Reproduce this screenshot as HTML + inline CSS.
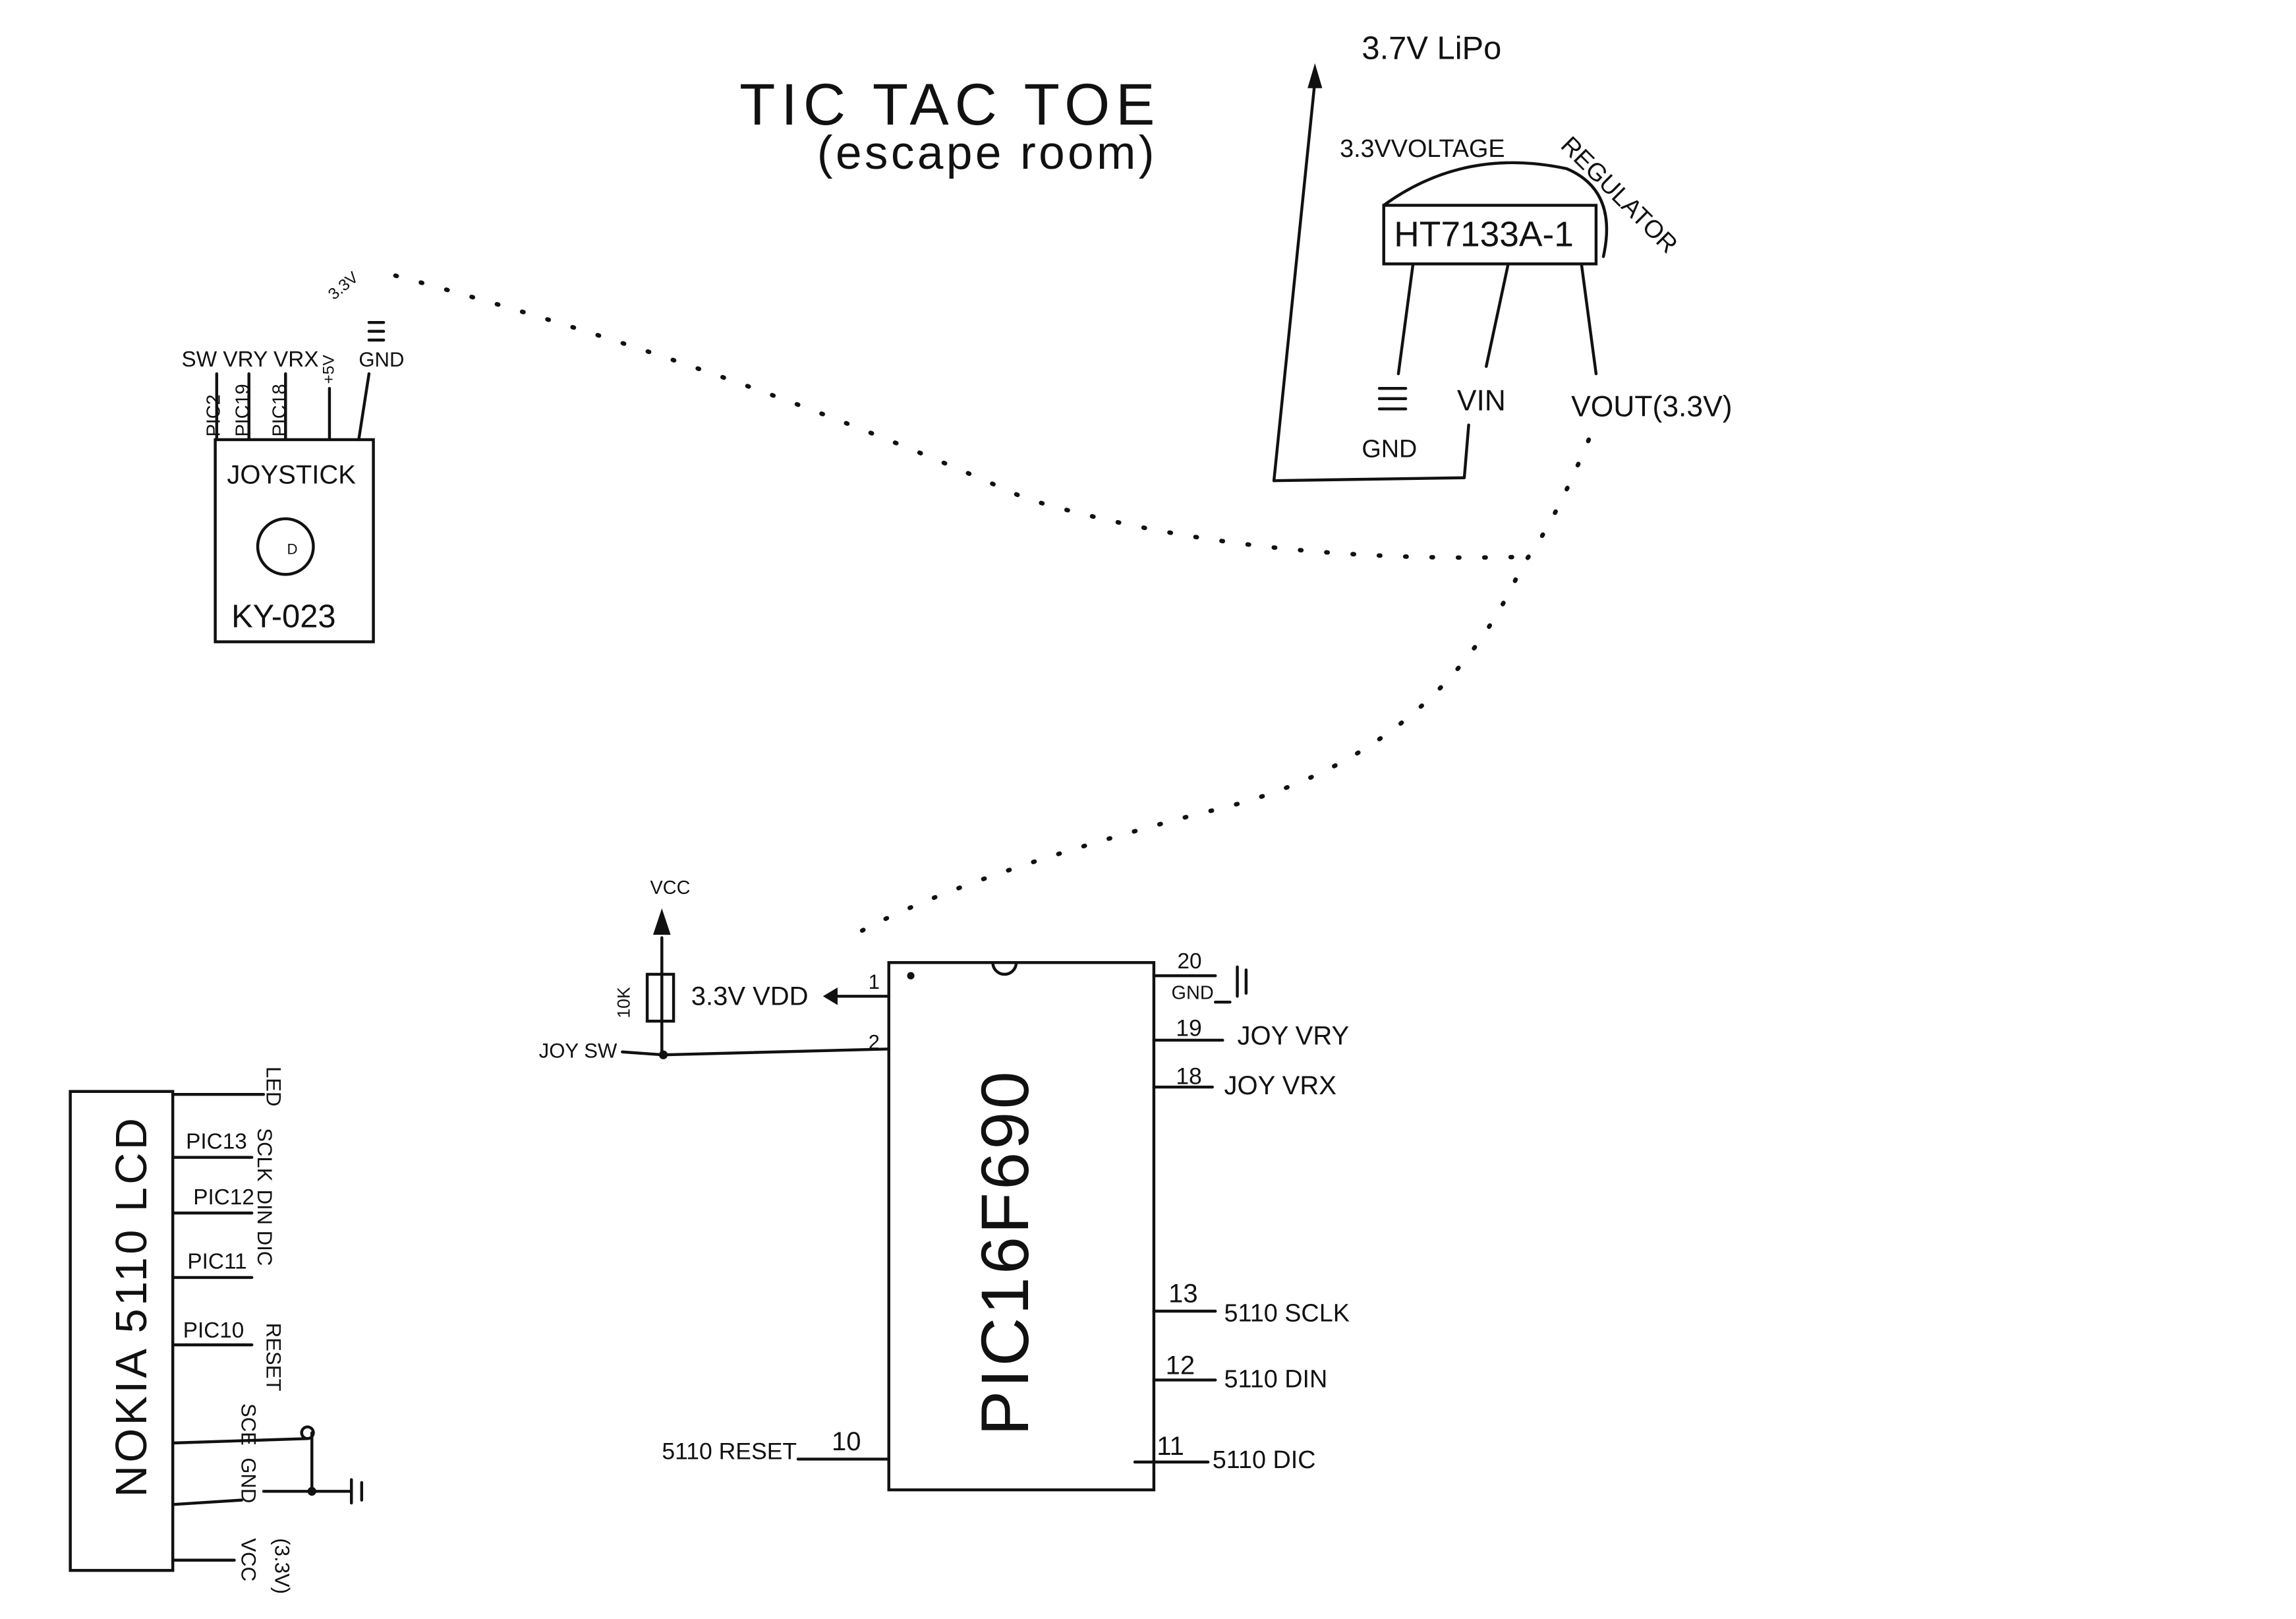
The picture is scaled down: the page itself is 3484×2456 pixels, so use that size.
<!DOCTYPE html>
<html><head><meta charset="utf-8"><style>
html,body{margin:0;padding:0;background:#fff;}
svg{display:block;}
text{font-family:"Liberation Sans",sans-serif;fill:#111;}
</style></head><body>
<svg width="3484" height="2456" viewBox="0 0 1568 1105" xmlns="http://www.w3.org/2000/svg">
<rect width="1568" height="1105" fill="#fff"/>
<g stroke="#111" stroke-width="2" fill="none" stroke-linecap="round">
<line x1="870" y1="328" x2="898" y2="55"/>
<line x1="870" y1="328" x2="1000" y2="326"/>
<line x1="1000" y1="326" x2="1003" y2="290"/>
<rect x="945" y="140" width="145" height="40"/>
<path d="M945 140 Q1000 100 1070 115 Q1105 130 1095 175"/>
<line x1="965" y1="180" x2="955" y2="255"/>
<line x1="1030" y1="180" x2="1015" y2="250"/>
<line x1="1080" y1="180" x2="1090" y2="255"/>
<line x1="942" y1="265" x2="960" y2="265"/><line x1="942" y1="272" x2="960" y2="272"/><line x1="942" y1="279" x2="960" y2="279"/>
<rect x="147" y="300" width="108" height="138"/>
<circle cx="195" cy="373" r="19"/>
<line x1="148" y1="300" x2="148" y2="255"/>
<line x1="170" y1="300" x2="170" y2="255"/>
<line x1="195" y1="300" x2="195" y2="255"/>
<line x1="225" y1="300" x2="225" y2="265"/>
<line x1="245" y1="300" x2="252" y2="255"/>
<line x1="252" y1="220" x2="262" y2="220"/><line x1="252" y1="226" x2="262" y2="226"/><line x1="252" y1="232" x2="262" y2="232"/>
<rect x="607" y="657" width="181" height="360"/>
<path d="M678 657 A8 8 0 0 0 694 657"/>
<line x1="572" y1="680" x2="607" y2="680"/>
<line x1="453" y1="720" x2="607" y2="716"/>
<line x1="425" y1="718" x2="453" y2="720"/>
<line x1="452" y1="640" x2="452" y2="720"/>
<rect x="442" y="665" width="18" height="32"/>
<line x1="788" y1="666" x2="830" y2="666"/>
<line x1="830" y1="684" x2="840" y2="684"/>
<line x1="845" y1="660" x2="845" y2="680"/><line x1="851" y1="662" x2="851" y2="678"/>
<line x1="788" y1="710" x2="835" y2="710"/>
<line x1="788" y1="742" x2="828" y2="742"/>
<line x1="788" y1="895" x2="830" y2="895"/>
<line x1="788" y1="942" x2="830" y2="942"/>
<line x1="775" y1="998" x2="825" y2="998"/>
<line x1="545" y1="996" x2="607" y2="996"/>
<rect x="48" y="745" width="70" height="327"/>
<line x1="118" y1="747" x2="180" y2="747"/>
<line x1="118" y1="790" x2="172" y2="790"/>
<line x1="118" y1="828" x2="172" y2="828"/>
<line x1="118" y1="872" x2="172" y2="872"/>
<line x1="118" y1="918" x2="172" y2="918"/>
<line x1="118" y1="985" x2="210" y2="982"/>
<line x1="118" y1="1027" x2="165" y2="1024"/>
<line x1="118" y1="1065" x2="160" y2="1065"/>
<line x1="213" y1="978" x2="213" y2="1018"/>
<line x1="180" y1="1018" x2="240" y2="1018"/>
<line x1="240" y1="1010" x2="240" y2="1026"/><line x1="247" y1="1012" x2="247" y2="1024"/>
</g>
<g fill="#111">
<polygon points="898,43 893,60 903,60"/>
<polygon points="452,620 446,638 458,638"/>
<polygon points="562,680 572,674 572,686"/>
<circle cx="453" cy="720" r="3"/>
<circle cx="213" cy="1018" r="3"/>
<circle cx="622" cy="666" r="2.5"/>
</g>
<circle cx="210" cy="978" r="4" fill="none" stroke="#111" stroke-width="2"/>
<g stroke="#111" stroke-width="3" fill="none" stroke-dasharray="1 17" stroke-linecap="round">
<path d="M270 188 Q500 250 700 340 Q850 385 1040 380"/>
<path d="M1085 300 Q1060 360 1040 385 Q980 520 820 555 Q650 600 580 640"/>
</g>
<text x="505" y="85" font-size="40" letter-spacing="4">TIC TAC TOE</text>
<text x="558" y="115" font-size="32" letter-spacing="2">(escape room)</text>
<text x="930" y="40" font-size="22">3.7V LiPo</text>
<text x="915" y="107" font-size="17">3.3VVOLTAGE</text>
<text x="1065" y="100" font-size="17" transform="rotate(45 1065 100)">REGULATOR</text>
<text x="952" y="168" font-size="24">HT7133A-1</text>
<text x="930" y="312" font-size="17">GND</text>
<text x="995" y="280" font-size="20">VIN</text>
<text x="1073" y="284" font-size="20">VOUT(3.3V)</text>
<text x="155" y="330" font-size="18">JOYSTICK</text>
<text x="196" y="378" font-size="10">D</text>
<text x="158" y="428" font-size="22">KY-023</text>
<text x="124" y="250" font-size="15">SW VRY VRX</text>
<text x="228" y="205" font-size="11" transform="rotate(-40 228 205)">3.3V</text>
<text x="245" y="250" font-size="14">GND</text>
<text x="150" y="298" font-size="13" transform="rotate(-90 150 298)">PIC2</text>
<text x="170" y="298" font-size="13" transform="rotate(-90 170 298)">PIC19</text>
<text x="195" y="298" font-size="13" transform="rotate(-90 195 298)">PIC18</text>
<text x="228" y="262" font-size="11" transform="rotate(-90 228 262)">+5V</text>
<text x="702" y="980" font-size="46" letter-spacing="2" transform="rotate(-90 702 980)">PIC16F690</text>
<text x="444" y="610" font-size="13">VCC</text>
<text x="430" y="695" font-size="12" transform="rotate(-90 430 695)">10K</text>
<text x="472" y="686" font-size="18">3.3V VDD</text>
<text x="593" y="675" font-size="14">1</text>
<text x="593" y="716" font-size="14">2</text>
<text x="368" y="722" font-size="14">JOY SW</text>
<text x="804" y="661" font-size="15">20</text>
<text x="800" y="682" font-size="13">GND</text>
<text x="803" y="707" font-size="16">19</text>
<text x="845" y="713" font-size="18">JOY VRY</text>
<text x="803" y="740" font-size="16">18</text>
<text x="836" y="747" font-size="18">JOY VRX</text>
<text x="798" y="889" font-size="18">13</text>
<text x="836" y="902" font-size="17">5110 SCLK</text>
<text x="796" y="938" font-size="18">12</text>
<text x="836" y="947" font-size="17">5110 DIN</text>
<text x="790" y="993" font-size="18">11</text>
<text x="828" y="1002" font-size="17">5110 DIC</text>
<text x="568" y="990" font-size="18">10</text>
<text x="452" y="996" font-size="16">5110 RESET</text>
<text x="100" y="1022" font-size="30" letter-spacing="2" transform="rotate(-90 100 1022)">NOKIA 5110 LCD</text>
<text x="127" y="784" font-size="15">PIC13</text>
<text x="132" y="822" font-size="15">PIC12</text>
<text x="128" y="866" font-size="15">PIC11</text>
<text x="125" y="913" font-size="15">PIC10</text>
<text x="182" y="728" font-size="14" transform="rotate(90 182 728)">LED</text>
<text x="176" y="770" font-size="14" transform="rotate(90 176 770)">SCLK</text>
<text x="176" y="812" font-size="14" transform="rotate(90 176 812)">DIN DIC</text>
<text x="182" y="903" font-size="14" transform="rotate(90 182 903)">RESET</text>
<text x="165" y="958" font-size="14" transform="rotate(90 165 958)">SCE</text>
<text x="165" y="995" font-size="14" transform="rotate(90 165 995)">GND</text>
<text x="165" y="1050" font-size="14" transform="rotate(90 165 1050)">VCC</text>
<text x="188" y="1050" font-size="14" transform="rotate(90 188 1050)">(3.3V)</text>
</svg>
</body></html>
